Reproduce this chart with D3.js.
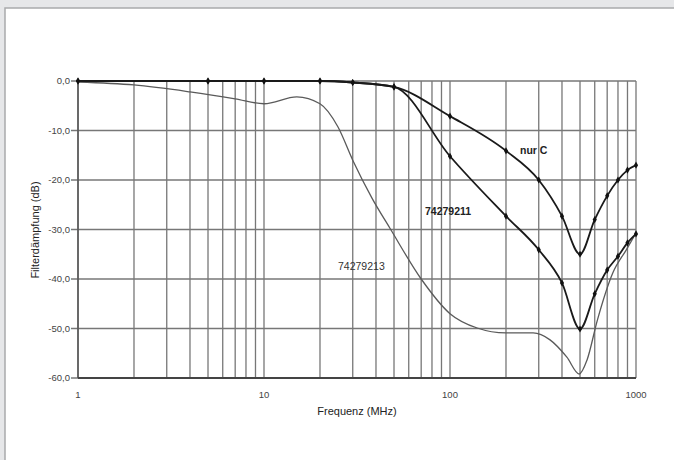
<!DOCTYPE html>
<html>
<head>
<meta charset="utf-8">
<script src="https://cdn.jsdelivr.net/npm/d3@7"></script>
<style>
  body { margin: 0; background: #e6e7e9; }
  svg { display: block; font-family: "Liberation Sans", Arial, sans-serif; }
</style>
</head>
<body>
<svg id="chart" width="674" height="460"></svg>
<script>
// Frequencies (MHz) for the measured series with markers
const freqMarked = [1, 5, 10, 20, 30, 50, 100, 200, 300, 400, 500, 600, 700, 800, 900, 1000];
const nurC       = [0, 0, 0, 0, -0.3, -1.2, -7.1, -14.1, -20, -27.3, -35, -28, -23.2, -20, -18, -17];
const ser211     = [0, 0, 0, 0, -0.3, -1.2, -15.2, -27.3, -34.1, -40.8, -50.1, -43, -38.2, -35.4, -32.7, -30.9];

// 74279213, thin line without markers
const freq213 = [1, 2, 4, 7, 10, 15, 20, 25, 30, 38, 48, 70, 100, 140, 200, 280, 345, 425, 495, 545, 620, 750, 890, 1000];
const val213  = [-0.2, -0.8, -2.2, -3.6, -4.6, -3.2, -4.6, -9.3, -16, -23.6, -30, -40, -47, -49.9, -50.9, -50.9, -52.3, -55.8, -59.2, -56.4, -48.3, -38.8, -34, -30.7];

const yTicks = [0, -10, -20, -30, -40, -50, -60];
const xTicks = [1, 10, 100, 1000];

const svg = d3.select("#chart");

// white panel
svg.append("rect")
  .attr("x", 5).attr("y", 8).attr("width", 680).attr("height", 470)
  .attr("fill", "#fff").attr("stroke", "#a9aaac").attr("stroke-width", 1.5);

const pLeft = 78, pRight = 636, pTop = 81, pBottom = 378;
const x = d3.scaleLog().domain([1, 1000]).range([pLeft, pRight]);
const y = d3.scaleLinear().domain([-60, 0]).range([pBottom, pTop]);

// vertical grid, 1..9 per decade
let minor = [];
for (let d = 1; d < 1000; d *= 10)
  for (let k = 1; k < 10; k++) minor.push(d * k);
minor.push(1000);

const g = svg.append("g");
g.selectAll(".vg").data(minor).enter().append("line")
  .attr("x1", d => x(d)).attr("x2", d => x(d))
  .attr("y1", pTop).attr("y2", pBottom)
  .attr("stroke", "#777").attr("stroke-width", 1.3);

g.selectAll(".hg").data(yTicks).enter().append("line")
  .attr("x1", pLeft - 7).attr("x2", pRight)
  .attr("y1", d => y(d)).attr("y2", d => y(d))
  .attr("stroke", "#777").attr("stroke-width", 1.3);

// axis lines
g.append("line").attr("x1", pLeft).attr("x2", pLeft).attr("y1", pTop).attr("y2", pBottom)
  .attr("stroke", "#555").attr("stroke-width", 1.5);
g.append("line").attr("x1", pLeft).attr("x2", pRight).attr("y1", pBottom).attr("y2", pBottom)
  .attr("stroke", "#444").attr("stroke-width", 1.8);

// tick labels
const fmt = d => d3.format(".1f")(d).replace(".", ",").replace("−", "-");
g.selectAll(".yl").data(yTicks).enter().append("text")
  .attr("x", 70).attr("y", d => y(d) + 3.3)
  .attr("text-anchor", "end").attr("font-size", 9.5).attr("fill", "#444")
  .text(fmt);

g.selectAll(".xl").data(xTicks).enter().append("text")
  .attr("x", d => x(d)).attr("y", 398)
  .attr("text-anchor", "middle").attr("font-size", 9.5).attr("fill", "#444")
  .text(d => d);

// axis titles
svg.append("text").attr("x", 357).attr("y", 415)
  .attr("text-anchor", "middle").attr("font-size", 11).attr("fill", "#222")
  .text("Frequenz (MHz)");
svg.append("text")
  .attr("transform", "translate(39,230) rotate(-90)")
  .attr("text-anchor", "middle").attr("font-size", 11).attr("fill", "#222")
  .text("Filterdämpfung (dB)");

// lines
const line = d3.line().x(d => x(d[0])).y(d => y(d[1])).curve(d3.curveMonotoneX);

const d213 = d3.zip(freq213, val213);
const dC = d3.zip(freqMarked, nurC);
const d211 = d3.zip(freqMarked, ser211);

svg.append("path").datum(d213).attr("d", line)
  .attr("fill", "none").attr("stroke", "#5a5a5a").attr("stroke-width", 1.3);

[dC, d211].forEach(data => {
  svg.append("path").datum(data).attr("d", line)
    .attr("fill", "none").attr("stroke", "#1a1a1a").attr("stroke-width", 1.8);
  svg.selectAll(null).data(data).enter().append("path")
    .attr("transform", d => `translate(${x(d[0])},${y(d[1])})`)
    .attr("d", d3.symbol().type(d3.symbolDiamond).size(15))
    .attr("fill", "#111");
});

// series labels
svg.append("text").attr("x", 520).attr("y", 154).attr("font-size", 10.5)
  .attr("font-weight", "bold").attr("fill", "#222").text("nur C");
svg.append("text").attr("x", 425).attr("y", 215).attr("font-size", 10.5)
  .attr("font-weight", "bold").attr("fill", "#222").text("74279211");
svg.append("text").attr("x", 338).attr("y", 270).attr("font-size", 10.5)
  .attr("fill", "#333").text("74279213");
</script>
</body>
</html>
